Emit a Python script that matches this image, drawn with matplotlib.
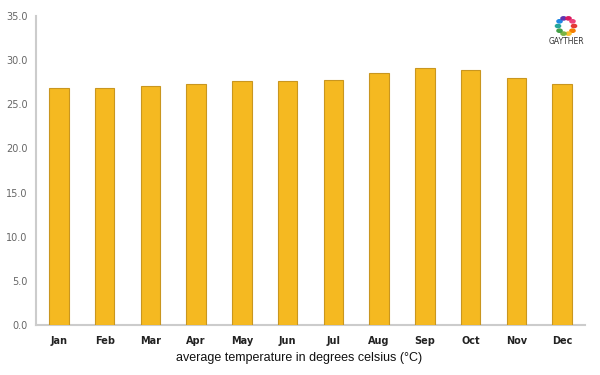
import matplotlib
matplotlib.use("Agg")
import matplotlib.pyplot as plt
import matplotlib.patches as mpatches
import numpy as np

months = ["Jan", "Feb", "Mar", "Apr", "May", "Jun", "Jul", "Aug", "Sep", "Oct", "Nov", "Dec"]
temps = [26.9, 26.8, 27.1, 27.3, 27.6, 27.6, 27.7, 28.6, 29.1, 28.9, 28.0, 27.3]
yticks = [0.0, 5.0, 10.0, 15.0, 20.0, 25.0, 30.0, 35.0]

fig = plt.figure(figsize=(6, 3.75), dpi=100)
ax = fig.add_axes([0.06, 0.1333, 0.915, 0.824])

x = np.arange(len(months))
ax.bar(x, temps, width=0.43, color="#F5B921", edgecolor="#C9961F", linewidth=0.8, zorder=3)

ax.set_xlim(-0.5, len(months) - 0.5)
ax.set_ylim(0, 35)
ax.set_yticks(yticks)
ax.set_yticklabels([f"{v:.1f}" for v in yticks], fontsize=7, color="#666666", family="DejaVu Sans")
ax.set_xticks(x)
ax.set_xticklabels(months, fontsize=7, color="#222222", fontweight="bold", family="DejaVu Sans")
ax.tick_params(axis="both", length=0)
ax.tick_params(axis="x", pad=8)
ax.tick_params(axis="y", pad=6)

for s in ["top", "right"]:
    ax.spines[s].set_visible(False)
for s in ["left", "bottom"]:
    ax.spines[s].set_color("#cccccc")
    ax.spines[s].set_linewidth(1.5)

ax.set_xlabel("average temperature in degrees celsius (°C)", fontsize=9,
              family="Liberation Sans", color="#111111")
ax.xaxis.set_label_coords(0.479, -0.087)

# logo
cols = ["#e53935", "#f57c00", "#fbc02d", "#7cb342", "#43a047", "#26a69a",
        "#1e88e5", "#5e35b1", "#d81b60", "#ec407a"]
ang = np.linspace(0, 2 * np.pi, len(cols), endpoint=False)
lx = 566 + 8 * np.cos(ang)
ly = 26 + 8 * np.sin(ang)
for c, px, py in zip(cols, lx, ly):
    fig.patches.append(mpatches.Circle((px / 600, 1 - py / 375), 2.6 / 600,
                                       transform=fig.transFigure, color=c, figure=fig))
fig.text(566 / 600, 1 - 42 / 375, "GAYTHER", ha="center", va="center", fontsize=5.5,
         color="#333333", family="DejaVu Sans")

fig.savefig("out.png", dpi=100)
